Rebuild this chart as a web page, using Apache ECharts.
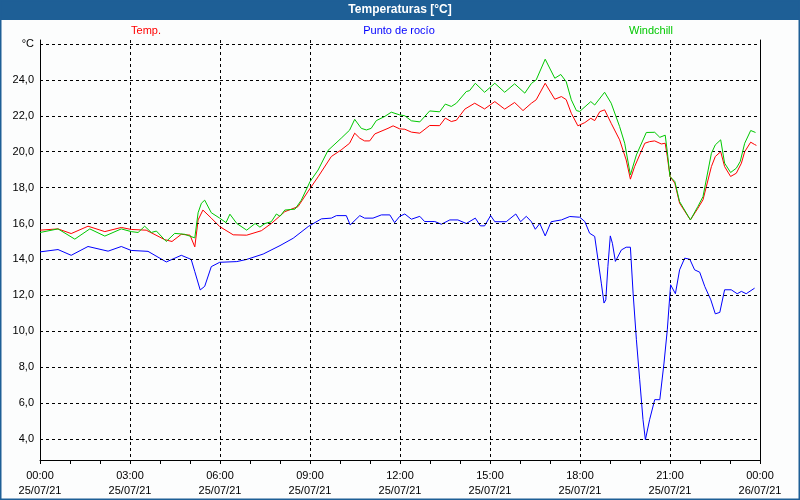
<!DOCTYPE html>
<html>
<head>
<meta charset="utf-8">
<script src="https://cdn.jsdelivr.net/npm/echarts@6/dist/echarts.min.js"></script>
<style>
html,body{margin:0;padding:0;background:#fcfdfd;}
#chart{width:800px;height:500px;}
</style>
</head>
<body>
<div id="chart"></div>
<script>
// ---- Data (hours since 25/07/21 00:00, °C) ----
const seriesNames = ['Temp.', 'Punto de rocío', 'Windchill'];
const yTicks = [4, 6, 8, 10, 12, 14, 16, 18, 20, 22, 24, 26];
const xTickHours = [0, 3, 6, 9, 12, 15, 18, 21, 24];

const tempT = [0, 0.6, 1.04, 1.6, 2.16, 2.71, 3.04, 3.54, 4.16, 4.4, 4.71, 5.0, 5.16, 5.27, 5.43, 5.71, 5.99, 6.44, 6.89, 7.38, 7.71, 8.16, 8.6, 8.94, 9.27, 9.71, 10.04, 10.32, 10.49, 10.66, 10.82, 10.99, 11.16, 11.6, 11.77, 11.99, 12.16, 12.38, 12.66, 12.99, 13.32, 13.51, 13.71, 13.88, 14.16, 14.49, 14.82, 15.16, 15.49, 15.82, 16.1, 16.38, 16.54, 16.84, 17.16, 17.38, 17.54, 17.71, 17.93, 18.16, 18.36, 18.49, 18.66, 18.82, 19.04, 19.32, 19.54, 19.68, 19.82, 20.16, 20.32, 20.49, 20.71, 20.84, 20.91, 21.0, 21.16, 21.32, 21.68, 21.93, 22.1, 22.38, 22.51, 22.69, 22.82, 23.02, 23.21, 23.38, 23.49, 23.69, 23.82, 23.88];
const tempV = [15.63, 15.7, 15.44, 15.85, 15.55, 15.78, 15.67, 15.63, 15.1, 15.0, 15.4, 15.35, 14.7, 16.2, 16.75, 16.3, 15.83, 15.37, 15.35, 15.6, 16.0, 16.66, 16.94, 17.8, 18.6, 19.73, 20.1, 20.47, 21.03, 20.75, 20.6, 20.6, 20.99, 21.3, 21.44, 21.27, 21.25, 21.09, 21.03, 21.46, 21.45, 21.87, 21.68, 21.75, 22.37, 22.7, 22.38, 22.79, 22.37, 22.74, 22.29, 22.7, 22.89, 23.81, 22.92, 23.07, 22.9, 22.14, 21.44, 21.62, 21.86, 21.73, 22.23, 22.33, 21.58, 20.66, 19.54, 18.47, 19.17, 20.47, 20.56, 20.6, 20.43, 20.47, 19.73, 18.62, 18.25, 17.13, 16.2, 16.85, 17.32, 19.17, 19.73, 20.0, 19.17, 18.62, 18.8, 19.36, 20.0, 20.53, 20.4, 20.35];

const dewT = [0, 0.6, 1.04, 1.6, 2.27, 2.71, 3.04, 3.6, 4.21, 4.71, 5.04, 5.16, 5.34, 5.49, 5.71, 5.99, 6.56, 6.89, 7.44, 8.0, 8.44, 8.94, 9.0, 9.38, 9.71, 9.88, 10.21, 10.34, 10.66, 10.82, 11.1, 11.38, 11.66, 11.82, 11.99, 12.16, 12.38, 12.66, 12.82, 13.16, 13.38, 13.66, 13.93, 14.21, 14.51, 14.68, 14.82, 15.02, 15.16, 15.54, 15.86, 16.02, 16.21, 16.38, 16.51, 16.66, 16.84, 17.04, 17.38, 17.66, 17.99, 18.16, 18.32, 18.49, 18.6, 18.71, 18.8, 18.86, 18.93, 19.01, 19.08, 19.18, 19.38, 19.54, 19.68, 19.77, 19.88, 19.99, 20.1, 20.18, 20.32, 20.49, 20.66, 20.8, 20.91, 21.02, 21.18, 21.32, 21.49, 21.66, 21.82, 21.99, 22.16, 22.36, 22.51, 22.66, 22.82, 23.04, 23.24, 23.38, 23.54, 23.82];
const dewV = [14.42, 14.55, 14.23, 14.72, 14.46, 14.72, 14.5, 14.45, 13.86, 14.23, 14.0, 13.32, 12.3, 12.5, 13.6, 13.84, 13.88, 14.0, 14.3, 14.77, 15.18, 15.83, 15.92, 16.26, 16.3, 16.44, 16.44, 15.92, 16.44, 16.3, 16.3, 16.48, 16.48, 16.05, 16.4, 16.53, 16.24, 16.4, 16.11, 16.11, 15.96, 16.2, 16.2, 16.0, 16.3, 15.87, 15.87, 16.44, 16.1, 16.1, 16.53, 16.1, 16.4, 16.1, 15.68, 16.0, 15.31, 16.1, 16.2, 16.39, 16.35, 16.11, 15.46, 15.28, 13.98, 12.68, 11.57, 11.75, 13.61, 15.31, 14.9, 13.89, 14.53, 14.68, 14.68, 12.12, 9.53, 7.3, 5.07, 3.96, 5.07, 6.19, 6.19, 8.23, 10.08, 12.59, 12.09, 13.42, 14.07, 14.01, 13.42, 13.29, 12.49, 11.75, 10.97, 11.05, 12.31, 12.31, 12.09, 12.22, 12.09, 12.4];

const windT = [0, 0.6, 1.16, 1.66, 2.16, 2.71, 3.04, 3.27, 3.49, 3.71, 3.88, 4.21, 4.49, 4.82, 5.16, 5.27, 5.38, 5.49, 5.71, 5.99, 6.2, 6.33, 6.56, 6.89, 7.17, 7.33, 7.5, 7.71, 7.88, 8.0, 8.16, 8.5, 8.71, 9.0, 9.27, 9.6, 10.04, 10.32, 10.49, 10.71, 10.88, 11.04, 11.21, 11.49, 11.71, 11.99, 12.16, 12.38, 12.66, 12.99, 13.32, 13.51, 13.71, 13.88, 14.21, 14.32, 14.51, 14.82, 15.16, 15.49, 15.82, 16.16, 16.38, 16.54, 16.84, 17.16, 17.36, 17.54, 17.71, 17.88, 17.99, 18.36, 18.49, 18.82, 19.04, 19.32, 19.49, 19.68, 19.88, 20.21, 20.49, 20.66, 20.84, 20.91, 21.0, 21.16, 21.32, 21.68, 21.93, 22.1, 22.38, 22.51, 22.69, 22.82, 23.02, 23.21, 23.34, 23.49, 23.69, 23.85];
const windV = [15.5, 15.7, 15.13, 15.7, 15.3, 15.7, 15.55, 15.5, 15.85, 15.5, 15.58, 15.0, 15.45, 15.4, 15.2, 16.6, 17.13, 17.3, 16.6, 16.3, 16.05, 16.52, 16.0, 15.63, 16.0, 15.8, 16.0, 16.1, 16.53, 16.4, 16.75, 16.8, 17.3, 18.33, 18.98, 20.07, 20.75, 21.2, 21.8, 21.3, 21.21, 21.3, 21.73, 21.96, 22.2, 22.05, 22.0, 21.72, 21.66, 22.27, 22.22, 22.65, 22.52, 22.7, 23.35, 23.4, 23.81, 23.31, 23.81, 23.31, 23.78, 23.26, 23.8, 24.0, 25.15, 24.09, 24.3, 23.9, 22.89, 22.29, 22.24, 22.79, 22.6, 23.31, 22.7, 21.4, 20.47, 18.71, 19.82, 21.07, 21.08, 20.8, 20.92, 20.0, 18.62, 18.34, 17.22, 16.2, 16.95, 17.5, 19.91, 20.38, 20.66, 19.36, 18.84, 19.08, 19.45, 20.47, 21.18, 21.07];

const zip = (t, v) => t.map((x, i) => [x, v[i]]);
const fmtY = v => v === 26 ? '°C' : v.toFixed(1).replace('.', ',');
const pad = n => (n < 10 ? '0' : '') + n;

const FONT = 'Liberation Sans';
const chart = echarts.init(document.getElementById('chart'), null, {renderer: 'canvas'});

chart.setOption({
  animation: false,
  backgroundColor: '#fcfdfd',
  grid: {left: 40, right: 40, top: 40, bottom: 40, containLabel: false},
  xAxis: {
    type: 'value', min: 0, max: 24, interval: 3,
    axisLine: {show: true, lineStyle: {color: '#000', width: 1}},
    axisTick: {show: true, length: 4, lineStyle: {color: '#000'}},
    minorTick: {show: true, splitNumber: 3, length: 4, lineStyle: {color: '#000'}},
    splitLine: {show: true, lineStyle: {color: '#000', type: [3, 3], width: 1}},
    axisLabel: {
      margin: 8, color: '#000', fontFamily: FONT, fontSize: 11, lineHeight: 15,
      formatter: v => pad(v % 24) + ':00\n' + (v < 24 ? '25/07/21' : '26/07/21')
    }
  },
  yAxis: [
    {
      type: 'value', min: 2.83, max: 26.22, position: 'left',
      axisLine: {show: true, lineStyle: {color: '#000', width: 1}},
      axisTick: {show: false}, axisLabel: {show: false}, splitLine: {show: false}
    },
    {
      type: 'value', min: 2.83, max: 26.22, position: 'right',
      axisLine: {show: true, lineStyle: {color: '#000', width: 1}},
      axisTick: {show: false}, axisLabel: {show: false}, splitLine: {show: false}
    }
  ],
  series: [
    {
      name: seriesNames[0], type: 'line', data: zip(tempT, tempV),
      showSymbol: false, symbol: 'none', lineStyle: {color: '#ff0000', width: 1}, z: 3,
      markLine: {
        silent: true, symbol: 'none', animation: false,
        lineStyle: {color: '#000', type: [3, 3], width: 1},
        label: {position: 'start', distance: 6, color: '#000', fontFamily: FONT, fontSize: 11,
          formatter: p => fmtY(p.value)},
        data: yTicks.map(v => ({yAxis: v}))
      }
    },
    {
      name: seriesNames[1], type: 'line', data: zip(dewT, dewV),
      showSymbol: false, symbol: 'none', lineStyle: {color: '#0000ff', width: 1}, z: 4
    },
    {
      name: seriesNames[2], type: 'line', data: zip(windT, windV),
      showSymbol: false, symbol: 'none', lineStyle: {color: '#00c800', width: 1}, z: 5
    }
  ],
  graphic: [
    {type: 'rect', shape: {x: 0, y: 0, width: 800, height: 20}, style: {fill: '#1e5f96'}, z: 10},
    {type: 'rect', shape: {x: 0.5, y: 0.5, width: 799, height: 499}, style: {fill: null, stroke: '#1e5f96', lineWidth: 2}, z: 10},
    {type: 'text', x: 400, y: 10, z: 11, style: {text: 'Temperaturas [°C]', fill: '#fff', font: 'bold 12px "Liberation Sans"', textAlign: 'center', textVerticalAlign: 'middle'}},
    {type: 'text', x: 146, y: 31, z: 11, style: {text: seriesNames[0], fill: '#ff0000', font: '11px "Liberation Sans"', textAlign: 'center', textVerticalAlign: 'middle'}},
    {type: 'text', x: 399, y: 31, z: 11, style: {text: seriesNames[1], fill: '#0000ff', font: '11px "Liberation Sans"', textAlign: 'center', textVerticalAlign: 'middle'}},
    {type: 'text', x: 651, y: 31, z: 11, style: {text: seriesNames[2], fill: '#00c800', font: '11px "Liberation Sans"', textAlign: 'center', textVerticalAlign: 'middle'}}
  ]
});
</script>
</body>
</html>
